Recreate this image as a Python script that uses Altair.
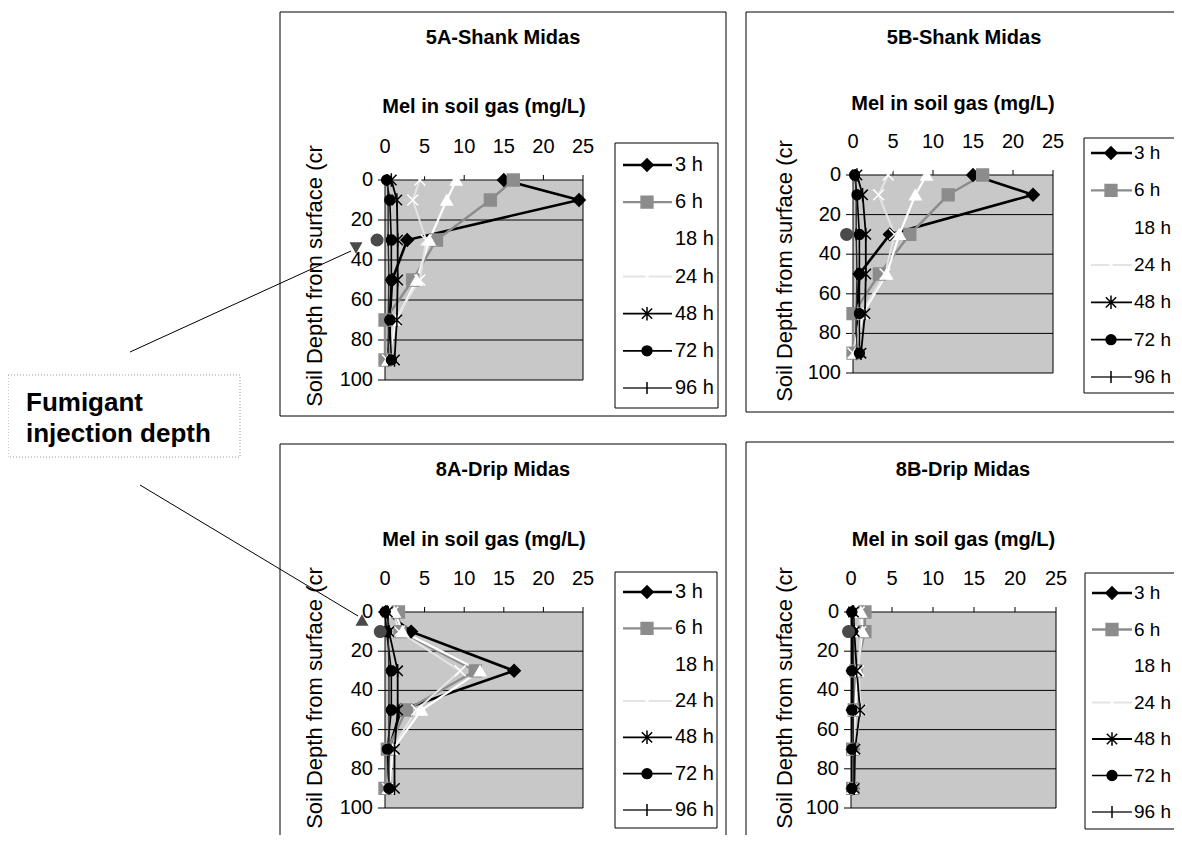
import altair as alt
import pandas as pd

FONT = "Liberation Sans, Arial, Helvetica, sans-serif"

# ---------------- data ----------------
SERIES = ["3 h", "6 h", "18 h", "24 h", "48 h", "72 h", "96 h"]
DEPTH = [0, 10, 30, 50, 70, 90]
X_TICKS = [0, 5, 10, 15, 20, 25]
Y_TICKS = [0, 20, 40, 60, 80, 100]
GRID_DEPTHS = [20, 40, 60, 80]
X_DOMAIN = [0, 25]
Y_DOMAIN = [0, 100]

PANELS = ["5A", "5B", "8A", "8B"]
TITLES = ["5A-Shank Midas", "5B-Shank Midas", "8A-Drip Midas", "8B-Drip Midas"]
X_TITLE = "Mel in soil gas (mg/L)"
Y_TITLE = "Soil Depth from surface (cr"
NOTE_LINES = ["Fumigant", "injection depth"]

# MeI in soil gas (mg/L) at DEPTH, one list per sampling time
P5A_3H = [15.0, 24.5, 2.8, 0.9, 0.6, 0.4]
P5A_6H = [16.2, 13.3, 6.5, 3.5, 0.0, 0.0]
P5A_18H = [9.0, 7.8, 5.6, 4.0, 1.4, 0.4]
P5A_24H = [4.4, 3.5, 5.2, 4.4, 1.2, 0.3]
P5A_48H = [0.8, 1.5, 1.6, 1.6, 1.5, 1.2]
P5A_72H = [0.2, 0.6, 0.8, 0.8, 0.6, 0.8]
P5A_96H = [0.3, 0.4, 0.4, 0.5, 0.4, 0.5]

P5B_3H = [15.0, 22.5, 4.6, 0.8, 0.5, 0.4]
P5B_6H = [16.2, 11.9, 7.1, 3.3, 0.0, 0.0]
P5B_18H = [9.2, 7.8, 5.8, 4.2, 1.2, 0.3]
P5B_24H = [4.4, 3.2, 5.2, 4.0, 1.0, 0.0]
P5B_48H = [0.5, 1.2, 1.6, 1.6, 1.5, 1.0]
P5B_72H = [0.2, 0.5, 0.8, 0.8, 0.8, 0.8]
P5B_96H = [0.3, 0.4, 0.4, 0.5, 0.4, 0.5]

P8A_3H = [0.1, 3.3, 16.3, 2.0, 0.5, 0.5]
P8A_6H = [1.7, 1.9, 11.4, 2.7, 0.3, 0.0]
P8A_18H = [1.2, 2.2, 12.0, 4.6, 1.0, 0.5]
P8A_24H = [1.0, 1.8, 9.5, 4.0, 0.8, 0.3]
P8A_48H = [0.3, 0.5, 1.6, 1.6, 1.2, 1.2]
P8A_72H = [0.0, 0.2, 0.8, 0.8, 0.3, 0.5]
P8A_96H = [0.4, 0.4, 0.5, 0.5, 0.5, 0.5]

P8B_3H = [0.2, 0.2, 0.2, 0.2, 0.2, 0.2]
P8B_6H = [1.7, 1.7, 0.6, 0.4, 0.2, 0.2]
P8B_18H = [1.2, 1.4, 0.8, 0.5, 0.3, 0.2]
P8B_24H = [1.0, 1.2, 0.9, 1.2, 0.5, 0.3]
P8B_48H = [0.3, 0.4, 0.7, 1.1, 0.5, 0.4]
P8B_72H = [0.1, 0.1, 0.1, 0.1, 0.1, 0.1]
P8B_96H = [0.3, 0.3, 0.3, 0.3, 0.3, 0.3]

PANEL_VALUES = [
    [P5A_3H, P5A_6H, P5A_18H, P5A_24H, P5A_48H, P5A_72H, P5A_96H],
    [P5B_3H, P5B_6H, P5B_18H, P5B_24H, P5B_48H, P5B_72H, P5B_96H],
    [P8A_3H, P8A_6H, P8A_18H, P8A_24H, P8A_48H, P8A_72H, P8A_96H],
    [P8B_3H, P8B_6H, P8B_18H, P8B_24H, P8B_48H, P8B_72H, P8B_96H],
]

# fumigant injection marker (big dark circle)
INJ_DEPTH = [30, 30, 10, 10]
INJ_MEL = [-1.0, -0.8, -0.6, -0.3]

# ---------------- styles ----------------
PLOT_BG = "#c8c8c8"
LINE_COLORS = ["#000000", "#8c8c8c", "#ffffff", "#e4e4e4", "#000000", "#000000", "#2a2a2a"]
LINE_WIDTHS = [2.6, 1.4, 1.5, 1.2, 1.5, 1.6, 1.0]
PT_FILL = ["#000000", "#8c8c8c", "#ffffff", "#ffffff", "#000000", "#000000", "#000000"]
PT_STROKE = ["#000000", "#8c8c8c", "#ffffff", "#ffffff", "#000000", "#000000", "#000000"]
SHAPES = ["diamond", "square", "triangle-up",
          "M-1,-1L1,1M-1,1L1,-1",
          "M-1,-1L1,1M-1,1L1,-1M0,-1.3L0,1.3",
          "circle",
          "M0,-1.3L0,1.3"]
SIZES = [150, 85, 95, 90, 100, 90, 110]

# ---------------- layout (chart pixel coordinates) ----------------
GEOM = [
    dict(px0=377, px1=575, py0=172, py1=372, box=(272, 4, 718, 408), title=(495, 30),
         xtitle_y=99, ytitle=(307, 268), leg_box=(607, 135, 710, 400), leg_y=(157, 380),
         leg_lx=(615, 664), leg_mx=639, leg_tx=667, leg_fs=20),
    dict(px0=845, px1=1045, py0=167, py1=365, box=(738, 4, 1220, 404), title=(956, 30),
         xtitle_y=96, ytitle=(777, 263), leg_box=(1076, 130, 1220, 385), leg_y=(145, 369),
         leg_lx=(1083, 1124), leg_mx=1103, leg_tx=1126, leg_fs=19),
    dict(px0=377, px1=575, py0=604, py1=800, box=(272, 436, 718, 880), title=(495, 462),
         xtitle_y=532, ytitle=(307, 690), leg_box=(607, 564, 709, 820), leg_y=(584, 802),
         leg_lx=(615, 664), leg_mx=639, leg_tx=667, leg_fs=20),
    dict(px0=843, px1=1048, py0=604, py1=800, box=(738, 434, 1220, 880), title=(955, 462),
         xtitle_y=532, ytitle=(777, 690), leg_box=(1077, 565, 1220, 821), leg_y=(585, 804),
         leg_lx=(1084, 1124), leg_mx=1104, leg_tx=1126, leg_fs=19),
]
X_TICK_LEN = 5
Y_TICK_LEN = 7
X_LABEL_GAP = 33
Y_LABEL_GAP = 12

color_enc = alt.Color("series:N", scale=alt.Scale(domain=SERIES, range=LINE_COLORS), legend=None)
sw_enc = alt.StrokeWidth("series:N", scale=alt.Scale(domain=SERIES, range=LINE_WIDTHS), legend=None)
fill_enc = alt.Fill("series:N", scale=alt.Scale(domain=SERIES, range=PT_FILL), legend=None)
stroke_enc = alt.Stroke("series:N", scale=alt.Scale(domain=SERIES, range=PT_STROKE), legend=None)
shape_enc = alt.Shape("series:N", scale=alt.Scale(domain=SERIES, range=SHAPES), legend=None)
size_enc = alt.Size("series:N", scale=alt.Scale(domain=SERIES, range=SIZES), legend=None)

one = pd.DataFrame({"k": [0]})


def value_rect(b, **kw):
    return alt.Chart(one).mark_rect(**kw).encode(
        x=alt.value(b[0]), x2=alt.value(b[2]), y=alt.value(b[1]), y2=alt.value(b[3]))


def value_text(txt, x, y, **kw):
    return alt.Chart(pd.DataFrame({"t": [txt]})).mark_text(font=FONT, color="black", **kw).encode(
        x=alt.value(x), y=alt.value(y), text="t:N")


layers = []

for i in range(4):
    g = GEOM[i]
    # panel frame and title
    layers.append(value_rect(g["box"], fill="white", fillOpacity=0, stroke="black", strokeWidth=1))
    layers.append(value_text(TITLES[i], g["title"][0], g["title"][1],
                             fontSize=20, fontWeight="bold", align="center", baseline="middle"))
    # axis titles
    layers.append(value_text(X_TITLE, (g["px0"] + g["px1"]) / 2, g["xtitle_y"],
                             fontSize=20, fontWeight="bold", align="center", baseline="middle"))
    layers.append(value_text(Y_TITLE, g["ytitle"][0], g["ytitle"][1],
                             fontSize=22, align="center", baseline="middle", angle=270))

    sx = alt.Scale(domain=X_DOMAIN, range=[g["px0"], g["px1"]], nice=False, zero=False)
    sy = alt.Scale(domain=Y_DOMAIN, range=[g["py0"], g["py1"]], nice=False, zero=False)

    bg_df = pd.DataFrame({"m0": [X_DOMAIN[0]], "m1": [X_DOMAIN[1]], "d0": [Y_DOMAIN[0]], "d1": [Y_DOMAIN[1]]})
    bg = alt.Chart(bg_df).mark_rect(fill=PLOT_BG, stroke="black", strokeWidth=1).encode(
        x=alt.X("m0:Q", scale=sx, axis=None), x2="m1:Q",
        y=alt.Y("d0:Q", scale=sy, axis=None), y2="d1:Q",
    )

    grid_df = pd.DataFrame({"d": GRID_DEPTHS, "m0": X_DOMAIN[0], "m1": X_DOMAIN[1]})
    grid = alt.Chart(grid_df).mark_rule(color="black", strokeWidth=1).encode(
        x=alt.X("m0:Q", scale=sx, axis=None), x2="m1:Q",
        y=alt.Y("d:Q", scale=sy, axis=None),
    )

    # x axis (top): ticks + labels through the x scale
    xt_df = pd.DataFrame({"v": X_TICKS})
    x_ticks = alt.Chart(xt_df).mark_rule(color="black", strokeWidth=1).encode(
        x=alt.X("v:Q", scale=sx, axis=None),
        y=alt.value(g["py0"] - X_TICK_LEN), y2=alt.value(g["py0"]),
    )
    x_labels = alt.Chart(xt_df).mark_text(font=FONT, fontSize=20, color="black",
                                          align="center", baseline="middle").encode(
        x=alt.X("v:Q", scale=sx, axis=None), y=alt.value(g["py0"] - X_LABEL_GAP), text="v:Q",
    )
    # y axis (left): ticks + labels through the y scale
    yt_df = pd.DataFrame({"v": Y_TICKS})
    y_ticks = alt.Chart(yt_df).mark_rule(color="black", strokeWidth=1).encode(
        y=alt.Y("v:Q", scale=sy, axis=None),
        x=alt.value(g["px0"] - Y_TICK_LEN), x2=alt.value(g["px0"]),
    )
    y_labels = alt.Chart(yt_df).mark_text(font=FONT, fontSize=20, color="black",
                                          align="right", baseline="middle").encode(
        y=alt.Y("v:Q", scale=sy, axis=None), x=alt.value(g["px0"] - Y_LABEL_GAP), text="v:Q",
    )

    rows = []
    for s, vals in zip(SERIES, PANEL_VALUES[i]):
        for d, v in zip(DEPTH, vals):
            rows.append({"series": s, "depth": d, "mel": v})
    df = pd.DataFrame(rows)

    lines = alt.Chart(df).mark_line(opacity=1).encode(
        x=alt.X("mel:Q", scale=sx, axis=None),
        y=alt.Y("depth:Q", scale=sy, axis=None),
        color=color_enc, strokeWidth=sw_enc,
        order=alt.Order("depth:Q"),
    )
    pts = alt.Chart(df).mark_point(filled=False, opacity=1, strokeWidth=1.5).encode(
        x=alt.X("mel:Q", scale=sx, axis=None),
        y=alt.Y("depth:Q", scale=sy, axis=None),
        fill=fill_enc, stroke=stroke_enc, shape=shape_enc, size=size_enc,
    )
    inj = alt.Chart(pd.DataFrame({"mel": [INJ_MEL[i]], "depth": [INJ_DEPTH[i]]})).mark_circle(
        size=170, color="#4a4a4a", opacity=1
    ).encode(
        x=alt.X("mel:Q", scale=sx, axis=None),
        y=alt.Y("depth:Q", scale=sy, axis=None),
    )
    layers.append(alt.layer(bg, grid, x_ticks, x_labels, y_ticks, y_labels, lines, pts, inj))

    # legend
    leg_df = pd.DataFrame({"series": SERIES})
    ly = alt.Y("series:N", scale=alt.Scale(type="point", domain=SERIES, range=list(g["leg_y"]), padding=0), axis=None)
    leg_box = value_rect(g["leg_box"], fill="white", stroke="black", strokeWidth=1)
    leg_rule = alt.Chart(leg_df).mark_rule(opacity=1).encode(
        x=alt.value(g["leg_lx"][0]), x2=alt.value(g["leg_lx"][1]), y=ly,
        color=color_enc, strokeWidth=sw_enc,
    )
    leg_pt = alt.Chart(leg_df).mark_point(filled=False, opacity=1, strokeWidth=1.5).encode(
        x=alt.value(g["leg_mx"]), y=ly,
        fill=fill_enc, stroke=stroke_enc, shape=shape_enc, size=size_enc,
    )
    leg_txt = alt.Chart(leg_df).mark_text(
        font=FONT, fontSize=g["leg_fs"], align="left", baseline="middle", color="black"
    ).encode(x=alt.value(g["leg_tx"]), y=ly, text="series:N")
    layers.append(alt.layer(leg_box, leg_rule, leg_pt, leg_txt))

# ---------------- annotation: fumigant injection depth ----------------
layers.append(value_rect((0, 367, 232, 449), fill="white", stroke="#9a9a9a", strokeWidth=1, strokeDash=[1, 2]))
for txt, yb in zip(NOTE_LINES, [403, 434]):
    layers.append(value_text(txt, 18, yb, fontSize=26, fontWeight="bold", align="left", baseline="alphabetic"))
for (x1, y1, x2, y2), (hx, hy, hshape) in zip(
    [(122, 344, 343, 243), (132, 477, 350, 608)],
    [(348, 240, "triangle-down"), (354, 612, "triangle-up")],
):
    layers.append(
        alt.Chart(one).mark_rule(color="black", strokeWidth=1).encode(
            x=alt.value(x1), y=alt.value(y1), x2=alt.value(x2), y2=alt.value(y2))
    )
    layers.append(
        alt.Chart(one).mark_point(shape=hshape, filled=True, size=170, color="#4a4a4a", opacity=1).encode(
            x=alt.value(hx), y=alt.value(hy))
    )

chart = (
    alt.layer(*layers)
    .resolve_scale(x="independent", y="independent")
    .properties(width=1166, height=827, padding=0, autosize=alt.AutoSizeParams(type="none"), background="white")
    .configure_view(stroke=None)
)

chart.save("out.html", embed_options={"renderer": "svg", "actions": False})
